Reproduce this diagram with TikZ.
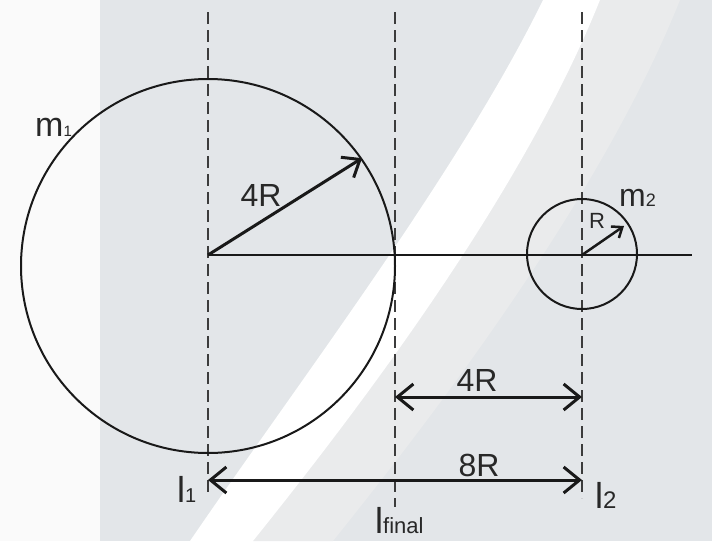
\documentclass[tikz,border=0pt]{standalone}
\usepackage{fontspec}
\setmainfont{Liberation Sans}
\usetikzlibrary{arrows.meta}
\definecolor{bggray}{RGB}{227,230,233}
\definecolor{bglight}{RGB}{234,235,236}
\definecolor{inkc}{RGB}{25,25,25}
\definecolor{textc}{RGB}{40,40,40}
\begin{document}
\begin{tikzpicture}[x=1pt,y=-1pt,
  guide/.style={draw=inkc!85, line width=2.4pt, dash pattern=on 12pt off 6pt},
  ring/.style={circle, draw=inkc, line width=2pt, inner sep=0pt},
  axisline/.style={draw=inkc, line width=2pt},
  dimarrow/.style={draw=inkc, line width=3pt,
    {Straight Barb[length=16pt,width=26pt]}-{Straight Barb[length=16pt,width=26pt]}},
  radarrow/.style={draw=inkc, line width=3pt, -{Straight Barb[length=15pt,width=24pt]}},
  smallarrow/.style={draw=inkc, line width=2.5pt, -{Straight Barb[length=9pt,width=14pt]}},
  lab/.style={inner sep=0pt, text=textc},
]
% background
\useasboundingbox (0,0) rectangle (712,541);
\fill[white!98!black] (0,0) rectangle (712,541);
\fill[bggray] (100,0) rectangle (712,541);
\fill[bglight] (253,541) .. controls (350,420) and (520,200) .. (600,0)
  -- (680,0) .. controls (600,200) and (430,420) .. (333,541) -- cycle;
\fill[white] (190,541) .. controls (300,380) and (460,170) .. (543,0)
  -- (600,0) .. controls (520,200) and (350,420) .. (253,541) -- cycle;

% coordinates
\coordinate (o1) at (208,255);
\coordinate (o2) at (582,255);
\coordinate (lineend) at (692,255);
\coordinate (t1) at (208,12);
\coordinate (b1) at (208,497);
\coordinate (tf) at (395,12);
\coordinate (bf) at (395,507);
\coordinate (t2) at (582,12);
\coordinate (b2) at (582,498);
\coordinate (a4l) at (395,397);
\coordinate (a4r) at (582,397);
\coordinate (a8l) at (208,480);
\coordinate (a8r) at (582,480);
\coordinate (rtip) at (624,226);

% dashed guides
\draw[guide] (t1) -- (b1);
\draw[guide] (tf) -- (bf);
\draw[guide] (t2) -- (b2);

% bodies
\node[ring, minimum size=374pt] (big) at (208,266) {};
\node[ring, minimum size=110pt] (small) at (582,254) {};

% axis line
\draw[axisline] (o1) -- (lineend);

% radius arrows
\draw[radarrow] (o1) -- (big.35);
\draw[smallarrow] (o2) -- (rtip);

% dimension arrows
\draw[dimarrow] (a4l) -- (a4r);
\draw[dimarrow] (a8l) -- (a8r);

% labels
\node[lab, anchor=base west] (m1) at (35,136)
  {\fontsize{34}{34}\selectfont m\fontsize{15}{15}\selectfont 1};
\node[lab, anchor=base west] (m2) at (619,206)
  {\fontsize{32}{32}\selectfont m\fontsize{18}{18}\selectfont 2};
\node[lab, anchor=base] (r4) at (261,206) {\fontsize{32}{32}\selectfont 4R};
\node[lab, anchor=base] (rs) at (597,228) {\fontsize{22}{22}\selectfont R};
\node[lab, anchor=base] (d4) at (477,391) {\fontsize{32}{32}\selectfont 4R};
\node[lab, anchor=base] (d8) at (479,476) {\fontsize{32}{32}\selectfont 8R};
\node[lab, anchor=base west] (l1) at (177,502)
  {\fontsize{36}{36}\selectfont l\fontsize{20}{20}\selectfont 1};
\node[lab, anchor=base west] (l2) at (595,508)
  {\fontsize{36}{36}\selectfont l\fontsize{24}{24}\selectfont 2};
\node[lab, anchor=base west] (lf) at (375,533)
  {\fontsize{36}{36}\selectfont l\fontsize{22}{22}\selectfont final};
\end{tikzpicture}
\end{document}
